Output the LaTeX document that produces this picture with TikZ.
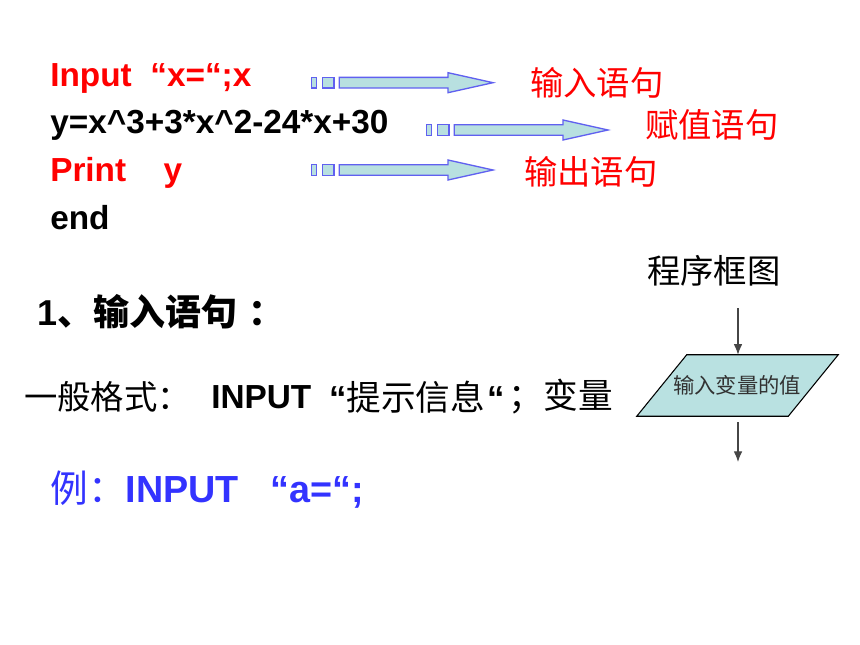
\documentclass[tikz,border=0pt]{standalone}
\usepackage{fontspec}
\setmainfont{Liberation Sans}
\newfontfamily\cjk{Noto Sans CJK SC}
\usetikzlibrary{calc,arrows.meta}
\definecolor{arrfill}{RGB}{184,224,224}
\definecolor{arredge}{RGB}{96,96,240}
\definecolor{exblue}{RGB}{51,51,255}
\definecolor{paraf}{RGB}{185,225,225}
\definecolor{flowline}{RGB}{70,70,70}
\tikzset{
  code/.style={anchor=base west, inner sep=0pt, font=\fontsize{25}{30}\selectfont\bfseries},
  lab/.style={anchor=west, inner sep=0pt, text=red, font=\fontsize{25}{30}\selectfont\cjk},
  body/.style={anchor=west, inner sep=0pt, font=\fontsize{25}{30}\selectfont},
  blockpart/.style={draw=arredge, fill=arrfill, line width=1pt},
  flowarrow/.style={draw=flowline, line width=0.9pt, -{Latex[length=8pt,width=6.5pt]}},
  blockarrow/.pic={
    \path[blockpart] (0,-5.3) rectangle (5,5.3);
    \path[blockpart] (11,-5.3) rectangle (22.3,5.3);
    \path[blockpart] (27.6,-5.3) -- (136.3,-5.3) -- (136.3,-10) -- (181.3,0)
       -- (136.3,10) -- (136.3,5.3) -- (27.6,5.3) -- cycle;
  }
}
\begin{document}
\begin{tikzpicture}[x=0.75pt,y=-0.75pt]
\useasboundingbox[fill=white] (0,0) rectangle (860,645);

% code lines
\node[code, text=red] (l1) at (50,87) {Input\hspace{14pt}“x=“;x};
\node[code] (l2) at (50,134) {y=x\^{}3+3*x\^{}2-24*x+30};
\node[code, text=red] (l3) at (50,182) {Print\hspace{28pt}y};
\node[code] (l4) at (50,230) {end};

% block arrows
\pic at (311.7,82.7) {blockarrow};
\pic at (426.7,130) {blockarrow};
\pic at (311.7,170) {blockarrow};

% labels
\node[lab] (t1) at (530,83) {输入语句};
\node[lab] (t2) at (645,125) {赋值语句};
\node[lab] (t3) at (524,172) {输出语句};

% section
\node[anchor=west, inner sep=0pt, font=\fontsize{27}{32}\selectfont] (sec) at (37,312)
  {\textbf{1}{\cjk\bfseries 、输入语句\hspace{0.3em}：}};
\node[body, font=\fontsize{25}{30}\selectfont\cjk] (g1) at (24,397) {一般格式：};
\node[body, font=\fontsize{25}{30}\selectfont\bfseries] (g2) at (211,397) {INPUT};
\node[body, font=\fontsize{26}{30}\selectfont] (g3) at (329,397) {\textbf{“}{\cjk 提示信息}\hspace{2pt}\textbf{“}};
\node[anchor=east, inner sep=0pt, font=\fontsize{26}{30}\selectfont\cjk] (g4) at (613,397) {；变量};
\node[anchor=west, inner sep=0pt, text=exblue, font=\fontsize{28.3}{33}\selectfont] (ex) at (50,490)
  {{\cjk 例：}\textbf{INPUT\hspace{24pt}“a=“;}};

% flowchart
\node[anchor=west, inner sep=0pt, font=\fontsize{25}{30}\selectfont\cjk] (fc) at (647,271) {程序框图};
\node[minimum width=150.75pt, minimum height=45.75pt, inner sep=0pt] (para) at (737.5,385.5) {};
\path[draw=black, line width=0.8pt, fill=paraf]
  (para.south west) -- ($(para.south east)+(-50,0)$) -- (para.north east)
  -- ($(para.north west)+(50,0)$) -- cycle;
\node[inner sep=0pt, text={rgb,255:red,50;green,50;blue,50}, font=\fontsize{16}{20}\selectfont\cjk] (ptxt) at (737,385) {输入变量的值};
\coordinate (ftop) at (738,308);
\coordinate (fbot) at (738,462);
\coordinate (fstart) at (738,422);
\draw[flowarrow] (ftop) -- (ftop |- para.north);
\draw[flowarrow] (fstart) -- (fbot);
\end{tikzpicture}
\end{document}
